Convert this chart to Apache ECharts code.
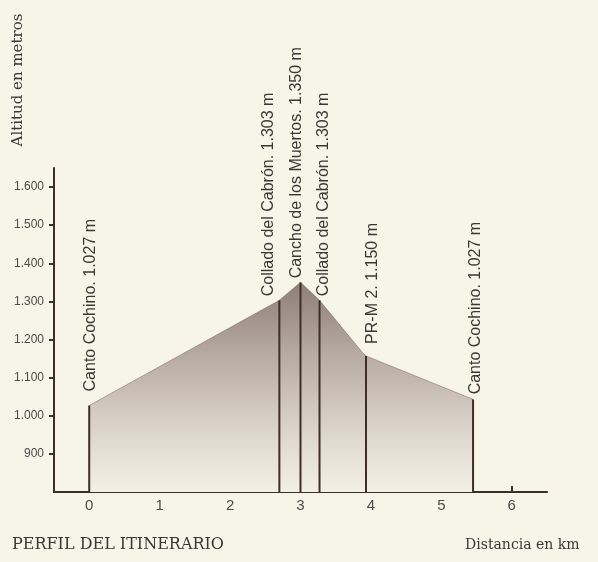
<!DOCTYPE html>
<html>
<head>
<meta charset="utf-8">
<title>Perfil del itinerario</title>
<script src="https://cdn.jsdelivr.net/npm/echarts@6/dist/echarts.min.js"></script>
<style>
  html, body { margin: 0; padding: 0; background: #f7f5e8; }
  #chart { width: 598px; height: 562px; }
</style>
</head>
<body>
<div id="chart"></div>
<script>
// perfil del recorrido: distancia (km) y altitud (m)
const profileKm = [0, 2.7, 3.0, 3.27, 3.88, 3.93, 5.45]
const profileAlt = [1027, 1303, 1350, 1303, 1166, 1157, 1043]

// puntos señalados con linea vertical
const pointKm = [0, 2.7, 3.0, 3.27, 3.93, 5.45]
const pointAlt = [1027, 1303, 1350, 1303, 1157, 1043]
const pointNames = [
  'Canto Cochino. 1.027 m',
  'Collado del Cabrón. 1.303 m',
  'Cancho de los Muertos. 1.350 m',
  'Collado del Cabrón. 1.303 m',
  'PR-M 2. 1.150 m',
  'Canto Cochino. 1.027 m',
]

// marcas de los ejes
const kmTicks = [0, 1, 2, 3, 4, 5, 6]
const altTicks = [900, 1000, 1100, 1200, 1300, 1400, 1500, 1600]

// ajuste de cada etiqueta: [desplazamiento x, separacion con la linea]
const labelShift = [[1, 14], [-11, 4], [-4, 4], [4, 4], [7, 12], [3, 5]]

const ink = '#3f2e25'
const textColor = '#3b3735'

const myChart = echarts.init(document.getElementById('chart'))

const option = {
  backgroundColor: '#f7f5e8',
  animation: false,
  grid: { left: 54, right: 51, top: 168, bottom: 70 },
  xAxis: {
    type: 'value',
    min: -0.5,
    max: 6.5,
    splitLine: { show: false },
    axisLine: { onZero: false, lineStyle: { color: ink, width: 2 } },
    axisTick: {
      inside: true,
      length: 6,
      customValues: kmTicks.slice(1),
      lineStyle: { color: ink, width: 2 },
    },
    axisLabel: {
      customValues: kmTicks,
      color: '#4d4a48',
      fontFamily: 'Liberation Sans',
      fontSize: 15,
      margin: 6,
    },
  },
  yAxis: {
    type: 'value',
    min: 800,
    max: 1650,
    splitLine: { show: false },
    axisLine: { show: true, onZero: false, lineStyle: { color: ink, width: 2 } },
    axisTick: {
      show: true,
      length: 5,
      customValues: altTicks,
      lineStyle: { color: ink, width: 2 },
    },
    axisLabel: {
      customValues: altTicks,
      color: '#4d4a48',
      fontFamily: 'Liberation Sans',
      fontSize: 12,
      margin: 10,
      formatter: (v) => String(v).replace(/\B(?=(\d{3})+(?!\d))/g, '.'),
    },
  },
  graphic: [
    {
      type: 'text',
      x: 18,
      y: 80,
      rotation: Math.PI / 2,
      style: {
        text: 'Altitud en metros',
        fill: textColor,
        font: '15px "DejaVu Serif"',
        align: 'center',
        verticalAlign: 'middle',
      },
    },
    {
      type: 'text',
      left: 12,
      top: 537,
      style: {
        text: 'PERFIL DEL ITINERARIO',
        fill: textColor,
        font: '16px "DejaVu Serif"',
      },
    },
    {
      type: 'text',
      left: 465,
      top: 538,
      style: {
        text: 'Distancia en km',
        fill: textColor,
        font: '14px "DejaVu Serif"',
      },
    },
  ],
  series: [
    {
      type: 'line',
      data: profileKm.map((km, i) => [km, profileAlt[i]]),
      symbol: 'none',
      lineStyle: { width: 1, color: 'rgba(120,100,90,0.5)' },
      areaStyle: {
        origin: 'start',
        opacity: 1,
        color: new echarts.graphic.LinearGradient(0, 0, 0, 1, [
          { offset: 0, color: '#8f7f76' },
          { offset: 0.35, color: '#b7aba2' },
          { offset: 0.7, color: '#dcd4cb' },
          { offset: 1, color: '#f4f0e6' },
        ]),
      },
      z: 1,
    },
    {
      type: 'bar',
      barWidth: 2,
      data: pointKm.map((km, i) => ({
        value: [km, pointAlt[i]],
        // la etiqueta va girada: el eje y local apunta a la derecha
        label: { offset: [0, labelShift[i][0]], distance: labelShift[i][1] },
      })),
      itemStyle: { color: ink },
      label: {
        show: true,
        position: 'top',
        rotate: 90,
        align: 'left',
        verticalAlign: 'middle',
        color: textColor,
        fontFamily: 'Liberation Sans',
        fontSize: 16,
        formatter: (p) => pointNames[p.dataIndex],
      },
      z: 3,
    },
  ],
}

myChart.setOption(option)
</script>
</body>
</html>
